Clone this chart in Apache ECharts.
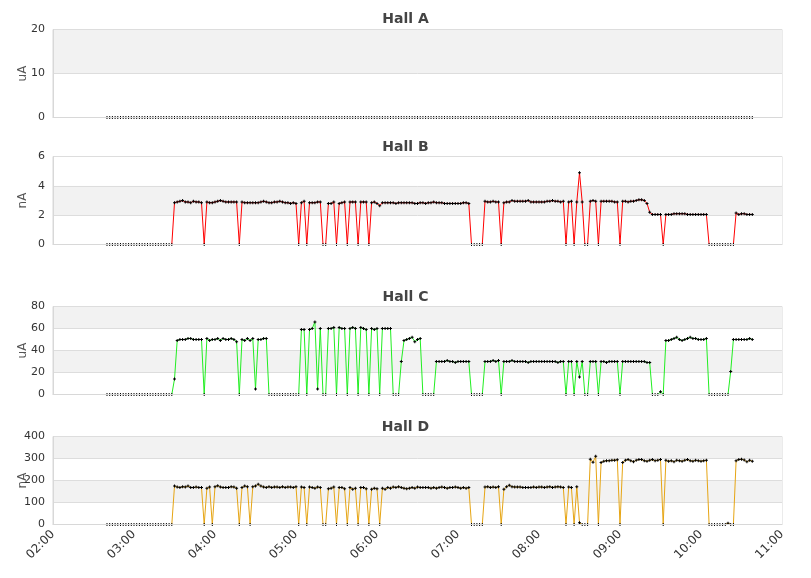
<!DOCTYPE html>
<html>
<head>
<meta charset="utf-8">
<script src="https://cdn.jsdelivr.net/npm/echarts@6/dist/echarts.min.js"></script>
<style>
  html, body { margin: 0; padding: 0; background: #fff; }
  #main { width: 811px; height: 578px; }
</style>
</head>
<body>
<div id="main"></div>
<script>
// samples every 2 minutes, first one at 02:40
var startMinute = 160;
var stepMinute = 2;

var hallA = [
    0,0,0,0,0,0,0,0,0,0,0,0,0,0,0,0,0,0,0,0,0,0,0,0,0,0,0,0,0,0,0,0,0,0,0,0,0,0,0,0,
    0,0,0,0,0,0,0,0,0,0,0,0,0,0,0,0,0,0,0,0,0,0,0,0,0,0,0,0,0,0,0,0,0,0,0,0,0,0,0,0,
    0,0,0,0,0,0,0,0,0,0,0,0,0,0,0,0,0,0,0,0,0,0,0,0,0,0,0,0,0,0,0,0,0,0,0,0,0,0,0,0,
    0,0,0,0,0,0,0,0,0,0,0,0,0,0,0,0,0,0,0,0,0,0,0,0,0,0,0,0,0,0,0,0,0,0,0,0,0,0,0,0,
    0,0,0,0,0,0,0,0,0,0,0,0,0,0,0,0,0,0,0,0,0,0,0,0,0,0,0,0,0,0,0,0,0,0,0,0,0,0,0,0,
    0,0,0,0,0,0,0,0,0,0,0,0,0,0,0,0,0,0,0,0,0,0,0,0,0,0,0,0,0,0,0,0,0,0,0,0,0,0,0,0
];

var hallB = [
    0,0,0,0,0,0,0,0,0,0,0,0,0,0,0,0,0,0,0,0,0,0,0,0,0,           // 0
    2.85, 2.9, 2.95, 3.0, 2.9, 2.9, 2.85, 2.95, 2.9, 2.9, 2.85,     // 25
    0,                                                              // 36
    2.9, 2.85, 2.85, 2.9, 2.95, 3.0, 2.95, 2.9, 2.9, 2.9, 2.9, 2.9, // 37
    0,                                                              // 49
    2.9, 2.85, 2.85, 2.85, 2.85, 2.85, 2.85, 2.9, 2.95, 2.9,        // 50
    2.85, 2.85, 2.9, 2.9, 2.95, 2.9, 2.85, 2.85, 2.8, 2.85, 2.8,    // 60
    0, 2.85, 2.95, 0,                                               // 71
    2.85, 2.85, 2.85, 2.9, 2.9,                                     // 75
    0, 0, 2.8, 2.8, 2.9,                                            // 80
    0, 2.8, 2.85, 2.9,                                              // 85
    0, 2.9, 2.9, 2.9,                                               // 89
    0, 2.9, 2.9, 2.9,                                               // 93
    0,                                                              // 97
    2.85, 2.9, 2.8, 2.65, 2.85, 2.85, 2.85, 2.85, 2.85, 2.8,        // 98
    2.85, 2.85, 2.85, 2.85, 2.85, 2.85, 2.8, 2.8, 2.85, 2.85,       // 108
    2.8, 2.85, 2.85, 2.9, 2.85, 2.85, 2.85, 2.8, 2.8, 2.8,          // 118
    2.8, 2.8, 2.8, 2.8, 2.85, 2.85, 2.8,                            // 128
    0, 0, 0, 0, 0,                                                  // 135
    2.95, 2.9, 2.9, 2.95, 2.9, 2.9,                                 // 140
    0,                                                              // 146
    2.85, 2.9, 2.9, 3.0, 2.95, 2.95, 2.95, 2.95, 2.95, 3.0,         // 147
    2.9, 2.9, 2.9, 2.9, 2.9, 2.9, 2.95, 2.95, 3.0, 2.95,            // 157
    2.95, 2.9, 2.95,                                                // 167
    0, 2.9, 2.95, 0,                                                // 170
    2.9, 4.9, 2.9,                                                  // 174
    0, 0,                                                           // 177
    2.95, 3.0, 2.95,                                                // 179
    0,                                                              // 182
    2.95, 2.95, 2.95, 2.95, 2.95, 2.9, 2.9,                         // 183
    0,                                                              // 190
    2.95, 2.95, 2.9, 2.95, 2.95, 3.0, 3.05, 3.05, 3.0, 2.8,         // 191
    2.2, 2.05, 2.05, 2.05, 2.05,                                    // 201
    0,                                                              // 206
    2.05, 2.05, 2.05, 2.1, 2.1, 2.1, 2.1, 2.1,                      // 207
    2.05, 2.05, 2.05, 2.05, 2.05, 2.05, 2.05, 2.05,                 // 215
    0, 0, 0, 0, 0, 0, 0, 0, 0, 0,                                   // 223
    2.15, 2.05, 2.1, 2.1, 2.05, 2.05, 2.05                          // 233
];

var hallC = [
    0,0,0,0,0,0,0,0,0,0,0,0,0,0,0,0,0,0,0,0,0,0,0,0,0,           // 0
    14,                                                             // 25
    49, 50, 50, 50, 51, 51, 50, 50, 50, 50,                         // 26
    0,                                                              // 36
    51, 49, 50, 50, 51, 49, 51, 50, 50, 51, 50, 48,                 // 37
    0,                                                              // 49
    50, 49, 51, 49, 51, 5, 50, 50, 51, 51,                          // 50
    0, 0, 0, 0, 0, 0, 0, 0, 0, 0, 0, 0,                             // 60
    59, 59, 0, 59, 60, 66, 5, 60,                                   // 72
    0, 0, 60, 60, 61,                                               // 80
    0, 61, 60, 60,                                                  // 85
    0, 60, 61, 60,                                                  // 89
    0, 61, 60, 59,                                                  // 93
    0, 60, 59, 60,                                                  // 97
    0, 60, 60, 60, 60,                                              // 101
    0, 0, 0, 30,                                                    // 106
    49, 50, 51, 52, 48, 50, 51,                                     // 110
    0, 0, 0, 0, 0,                                                  // 117
    30, 30, 30, 30, 31, 30, 30, 29, 30, 30, 30, 30, 30,             // 122
    0, 0, 0, 0, 0,                                                  // 135
    30, 30, 30, 31, 30, 31,                                         // 140
    0,                                                              // 146
    30, 30, 30, 31, 30, 30, 30, 30, 30, 29,                         // 147
    30, 30, 30, 30, 30, 30, 30, 30, 30, 30,                         // 157
    29, 30, 30,                                                     // 167
    0, 30, 30, 0,                                                   // 170
    30, 16, 30,                                                     // 174
    0, 0,                                                           // 177
    30, 30, 30,                                                     // 179
    0,                                                              // 182
    30, 30, 29, 30, 30, 30, 30,                                     // 183
    0,                                                              // 190
    30, 30, 30, 30, 30, 30, 30, 30, 30, 29, 29,                     // 191
    0, 0, 0, 2.5, 0,                                                // 202
    49, 49, 50, 51, 52, 50, 49, 50,                                 // 207
    51, 52, 51, 51, 50, 50, 50, 51,                                 // 215
    0, 0, 0, 0, 0, 0, 0, 0,                                         // 223
    21,                                                             // 231
    50, 50, 50, 50, 50, 50, 51, 50                                  // 232
];

var hallD = [
    0,0,0,0,0,0,0,0,0,0,0,0,0,0,0,0,0,0,0,0,0,0,0,0,0,           // 0
    175, 170, 168, 172, 170, 175, 168, 168, 170, 168, 168,          // 25
    0, 165, 170, 0,                                                 // 36
    172, 176, 170, 168, 168, 168, 172, 170, 165,                    // 40
    0, 168, 175, 172, 0,                                            // 49
    172, 175, 183, 175, 170, 168, 172, 168, 170, 170,               // 54
    168, 172, 168, 170, 170, 168, 172,                              // 64
    0, 170, 168, 0,                                                 // 71
    170, 168, 165, 170, 168,                                        // 75
    0, 0, 162, 165, 170,                                            // 80
    0, 168, 168, 162,                                               // 85
    0, 168, 160, 165,                                               // 89
    0, 168, 168, 162,                                               // 93
    0, 160, 165, 162,                                               // 97
    0,                                                              // 101
    165, 160, 168, 165, 170, 168, 172, 168, 165, 162,               // 102
    165, 168, 165, 170, 168, 168, 168, 168, 165, 168,               // 112
    165, 168, 170, 168, 165, 168, 168, 170, 168, 165,               // 122
    168, 165, 168,                                                  // 132
    0, 0, 0, 0, 0,                                                  // 135
    170, 172, 168, 170, 168, 172,                                   // 140
    0,                                                              // 146
    160, 172, 178, 172, 170, 170, 170, 168, 168, 168,               // 147
    168, 170, 168, 170, 170, 168, 170, 172, 168, 170,               // 157
    172, 170, 168,                                                  // 167
    0, 170, 168, 0,                                                 // 170
    172, 8, 0, 0, 0,                                                // 174
    297, 283, 310,                                                  // 179
    0,                                                              // 182
    282, 288, 290, 290, 292, 292, 294,                              // 183
    0,                                                              // 190
    282, 292, 295, 290, 285, 292, 295, 295, 290, 288,               // 191
    292, 295, 290, 292, 296,                                        // 201
    0,                                                              // 206
    292, 288, 290, 285, 292, 290, 288, 292,                         // 207
    295, 290, 288, 292, 290, 288, 290, 292,                         // 215
    0, 0, 0, 0, 0, 0, 0,                                            // 223
    6, 0, 0,                                                        // 230
    290, 295, 297, 293, 285, 292, 288                               // 233
];

var hallNames = ['Hall A', 'Hall B', 'Hall C', 'Hall D'];
var units = ['uA', 'nA', 'uA', 'nA'];
var yMax = [20, 6, 80, 400];
var yStep = [10, 2, 20, 100];
var lineColors = ['#333333', '#ff0000', '#22ee22', '#e6a514'];
var hallValues = [hallA, hallB, hallC, hallD];

var gridTops = [29.5, 156.5, 306.5, 436.5];
var titleTops = [7, 135, 285, 415];

var plus = 'path://M1,0H2V1H3V2H2V3H1V2H0V1H1Z';
var font = 'DejaVu Sans';

function hhmm(v) {
    var h = Math.round(v);
    return (h < 10 ? '0' : '') + h + ':00';
}

var myChart = echarts.init(document.getElementById('main'));

var option = {
    animation: false,
    textStyle: { fontFamily: font },
    title: [],
    grid: [],
    xAxis: [],
    yAxis: [],
    series: []
};

hallValues.forEach(function (vals, k) {
    option.title.push({
        text: hallNames[k],
        left: 'center',
        top: titleTops[k],
        textStyle: { fontSize: 14, fontWeight: 'bold', color: '#444', fontFamily: font }
    });
    option.grid.push({
        left: 53, right: 29, top: gridTops[k], height: 88,
        outerBoundsMode: 'none',
        show: true, borderColor: '#d8d8d8', borderWidth: 1, backgroundColor: '#fff'
    });
    option.xAxis.push({
        type: 'value', gridIndex: k, min: 2, max: 11, interval: 1, z: 5,
        axisLine: { show: true, lineStyle: { color: '#d8d8d8' } },
        axisTick: { show: false },
        splitLine: { show: false },
        axisLabel: {
            show: k === 3, rotate: 45, margin: 8, fontSize: 12, color: '#333',
            fontFamily: font, formatter: hhmm
        }
    });
    option.yAxis.push({
        type: 'value', gridIndex: k, min: 0, max: yMax[k], interval: yStep[k],
        name: units[k], nameLocation: 'middle', nameGap: 24, nameMoveOverlap: false,
        nameTextStyle: { color: '#555', fontSize: 12, fontFamily: font },
        axisLine: { show: true, lineStyle: { color: '#d8d8d8' } },
        axisTick: { show: false },
        axisLabel: { fontSize: 11, color: '#333', margin: 8, fontFamily: font },
        splitLine: { lineStyle: { color: '#dddddd' } },
        splitArea: { show: true, areaStyle: { color: ['#ffffff', '#f2f2f2'] } }
    });
    option.series.push({
        type: 'line',
        xAxisIndex: k, yAxisIndex: k,
        data: vals.map(function (v, i) {
            return [(startMinute + stepMinute * i) / 60, v];
        }),
        symbol: plus,
        symbolSize: 3,
        showAllSymbol: true,
        itemStyle: { color: '#000' },
        lineStyle: { color: lineColors[k], width: 1 }
    });
});

myChart.setOption(option);
</script>
</body>
</html>
